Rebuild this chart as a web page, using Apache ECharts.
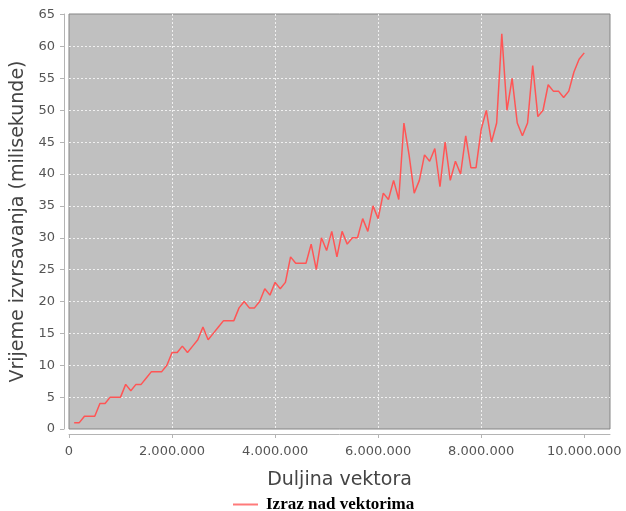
<!DOCTYPE html>
<html><head><meta charset="utf-8">
<script src="https://cdn.jsdelivr.net/npm/echarts@6/dist/echarts.min.js"></script>
<style>html,body{margin:0;padding:0;background:#fff}#c{width:626px;height:511px}</style>
</head><body><div id="c"></div><script>
const seriesName = 'Izraz nad vektorima';
const xTitle = 'Duljina vektora';
const yTitle = 'Vrijeme izvrsavanja (milisekunde)';
const vectorLengths = [
  100000, 200000, 300000, 400000, 500000, 600000, 700000, 800000, 900000, 1000000,
  1100000, 1200000, 1300000, 1400000, 1500000, 1600000, 1700000, 1800000, 1900000, 2000000,
  2100000, 2200000, 2300000, 2400000, 2500000, 2600000, 2700000, 2800000, 2900000, 3000000,
  3100000, 3200000, 3300000, 3400000, 3500000, 3600000, 3700000, 3800000, 3900000, 4000000,
  4100000, 4200000, 4300000, 4400000, 4500000, 4600000, 4700000, 4800000, 4900000, 5000000,
  5100000, 5200000, 5300000, 5400000, 5500000, 5600000, 5700000, 5800000, 5900000, 6000000,
  6100000, 6200000, 6300000, 6400000, 6500000, 6600000, 6700000, 6800000, 6900000, 7000000,
  7100000, 7200000, 7300000, 7400000, 7500000, 7600000, 7700000, 7800000, 7900000, 8000000,
  8100000, 8200000, 8300000, 8400000, 8500000, 8600000, 8700000, 8800000, 8900000, 9000000,
  9100000, 9200000, 9300000, 9400000, 9500000, 9600000, 9700000, 9800000, 9900000, 10000000
];
const timesMs = [
  1, 1, 2, 2, 2, 4, 4, 5, 5, 5,
  7, 6, 7, 7, 8, 9, 9, 9, 10, 12,
  12, 13, 12, 13, 14, 16, 14, 15, 16, 17,
  17, 17, 19, 20, 19, 19, 20, 22, 21, 23,
  22, 23, 27, 26, 26, 26, 29, 25, 30, 28,
  31, 27, 31, 29, 30, 30, 33, 31, 35, 33,
  37, 36, 39, 36, 48, 43, 37, 39, 43, 42,
  44, 38, 45, 39, 42, 40, 46, 41, 41, 47,
  50, 45, 48, 62, 50, 55, 48, 46, 48, 57,
  49, 50, 54, 53, 53, 52, 53, 56, 58, 59
];
const xTicks = [0, 2000000, 4000000, 6000000, 8000000, 10000000];
const yTicks = [0, 5, 10, 15, 20, 25, 30, 35, 40, 45, 50, 55, 60, 65];

function fmt(v) { return String(Math.round(v)).replace(/\B(?=(\d{3})+(?!\d))/g, '.'); }

const data = vectorLengths.map((x, i) => [x, timesMs[i]]);
const chart = echarts.init(document.getElementById('c'), null, { renderer: 'canvas' });
const axisGray = '#b4b4b4';
const labelGray = '#555555';
chart.setOption({
  animation: false,
  backgroundColor: '#ffffff',
  grid: { left: 69, top: 14, width: 541, height: 415, show: true, backgroundColor: '#c0c0c0', borderColor: '#858585', borderWidth: 1 },
  legend: {
    left: 233, top: 496, padding: 0, itemWidth: 25, itemHeight: 2, itemGap: 10,
    data: [{ name: seriesName, icon: 'rect', itemStyle: { color: '#ff7a7a' } }],
    textStyle: { fontFamily: 'Liberation Serif', fontWeight: 'bold', fontSize: 17, color: '#000000', padding: [0, 0, 0, 3] }
  },
  xAxis: {
    type: 'value', min: 0, max: 10500000, interval: 2000000, offset: 5,
    axisLine: { show: true, onZero: false, lineStyle: { color: axisGray } },
    axisTick: { show: true, length: 4, lineStyle: { color: axisGray }, customValues: xTicks },
    axisLabel: { customValues: xTicks, formatter: fmt, color: labelGray, fontFamily: 'DejaVu Sans', fontSize: 13, margin: 11 },
    splitLine: { show: true, showMinLine: false, showMaxLine: false, lineStyle: { color: '#f0f0f0', width: 1, type: [2, 2] } },
    name: xTitle, nameLocation: 'middle', nameGap: 37,
    nameTextStyle: { fontFamily: 'DejaVu Sans', fontSize: 19, color: '#444444' }
  },
  yAxis: {
    type: 'value', min: 0, max: 65.1, interval: 5, offset: 5,
    axisLine: { show: true, onZero: false, lineStyle: { color: axisGray } },
    axisTick: { show: true, length: 4, lineStyle: { color: axisGray }, customValues: yTicks },
    axisLabel: { customValues: yTicks, color: labelGray, fontFamily: 'DejaVu Sans', fontSize: 13, margin: 9 },
    splitLine: { show: true, showMinLine: false, showMaxLine: false, lineStyle: { color: '#f0f0f0', width: 1, type: [2, 2] } },
    name: yTitle, nameLocation: 'middle', nameGap: 36, nameRotate: 90,
    nameTextStyle: { fontFamily: 'DejaVu Sans', fontSize: 19, color: '#444444' }
  },
  series: [{
    name: seriesName, type: 'line', data: data, symbol: 'none', showSymbol: false,
    lineStyle: { color: '#ff5555', width: 1.5 }, itemStyle: { color: '#ff5555' }
  }]
});
</script></body></html>
